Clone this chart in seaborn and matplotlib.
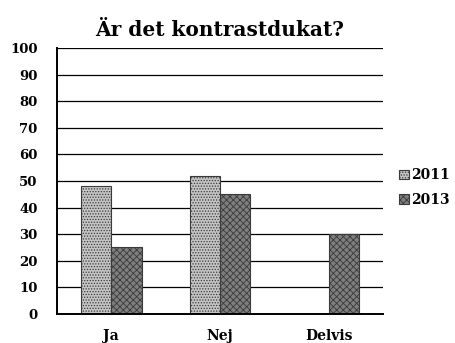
import matplotlib
matplotlib.use("Agg")
import matplotlib.pyplot as plt
import seaborn as sns
import pandas as pd

categories = ["Ja", "Nej", "Delvis"]
years = ["2011", "2013"]
values_2011 = [48, 52, 0]
values_2013 = [25, 45, 30]
y_ticks = list(range(0, 101, 10))

df = pd.DataFrame({
    "svar": categories * 2,
    "år": [years[0]] * 3 + [years[1]] * 3,
    "andel": values_2011 + values_2013,
})

sns.set_theme(style="white")
plt.rcParams["font.family"] = ["DejaVu Serif"]
plt.rcParams["hatch.linewidth"] = 0.6
plt.rcParams["text.color"] = "black"
plt.rcParams["xtick.color"] = "black"
plt.rcParams["ytick.color"] = "black"

fig = plt.figure(figsize=(4.56, 3.43), dpi=100)
ax = fig.add_axes([0.125, 0.085, 0.715, 0.775])

fills = {"2011": "#c4c4c4", "2013": "#7e7e7e"}
ax.set_axisbelow(True)
sns.barplot(data=df, x="svar", y="andel", hue="år", palette=fills,
            width=0.56, gap=0.0, ax=ax, legend=True,
            linewidth=0.8, edgecolor="#3a3a3a")

hatches = ["......", "xxxxx"]
for cont, h in zip(ax.containers, hatches):
    for bar in cont:
        bar.set_hatch(h)

ax.set_ylim(0, 100)
ax.set_yticks(y_ticks)
ax.set_yticklabels([str(t) for t in y_ticks], fontsize=9.5, fontweight="bold")
ax.yaxis.grid(True, color="black", linewidth=0.9)
ax.xaxis.grid(False)
ax.set_xlim(-0.5, 2.5)
ax.set_xticks(range(len(categories)))
ax.set_xticklabels(categories, fontsize=10, fontweight="bold")
ax.set_xticks([-0.5, 0.5, 1.5, 2.5], minor=True)
ax.tick_params(axis="x", which="major", length=0, pad=11)
ax.tick_params(axis="x", which="minor", length=4, width=1, direction="out")
ax.tick_params(axis="y", which="major", length=5, width=1, direction="out", pad=9)
ax.set_xlabel("")
ax.set_ylabel("")

for side in ["top", "right"]:
    ax.spines[side].set_visible(False)
for side in ["left", "bottom"]:
    ax.spines[side].set_color("black")
    ax.spines[side].set_linewidth(1.4)

ax.set_title("Är det kontrastdukat?", fontsize=14.5, fontweight="bold", pad=9)

leg = ax.legend(loc="center left", bbox_to_anchor=(1.01, 0.475), frameon=False,
                handlelength=0.7, handleheight=0.7, handletextpad=0.15,
                labelspacing=0.75, prop={"family": "DejaVu Serif", "weight": "bold", "size": 10})
for patch, h in zip(leg.get_patches(), hatches):
    patch.set_hatch(h)

fig.savefig("out.png", dpi=100)
